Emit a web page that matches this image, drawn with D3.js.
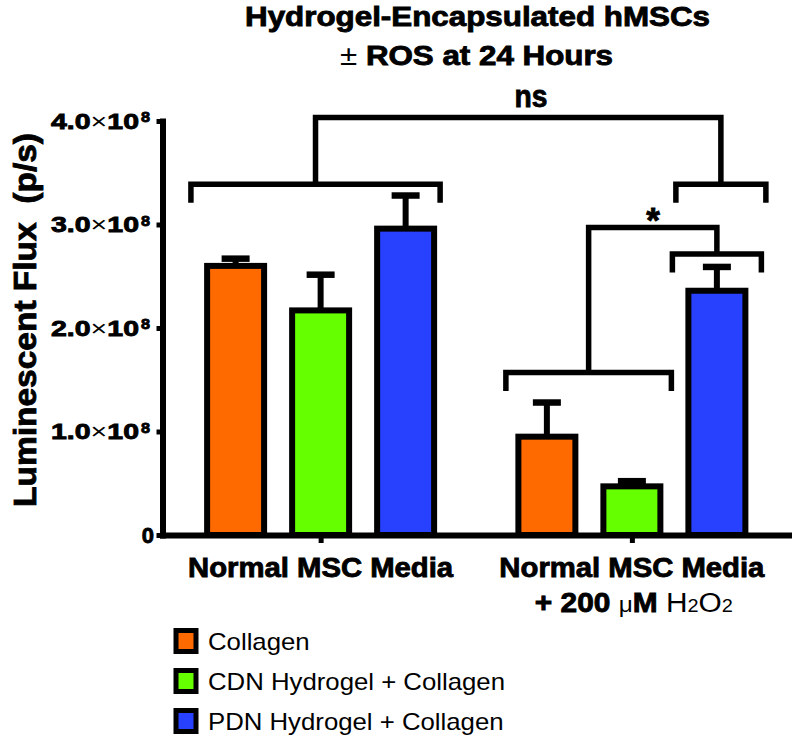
<!DOCTYPE html>
<html>
<head>
<meta charset="utf-8">
<script src="https://cdn.jsdelivr.net/npm/d3@7"></script>
<style>
  html, body { margin: 0; padding: 0; background: #fff; }
  svg { display: block; font-family: "Liberation Sans", Arial, Helvetica, sans-serif; }
  .heavy { stroke: #000; stroke-width: 0.85px; }
  .thin { stroke-width: 0px; font-weight: normal; }
</style>
</head>
<body>
<div id="chart"></div>
<script>
// ---------------- data ----------------
const groups = ["Normal MSC Media", "Normal MSC Media + 200 μM H2O2"];
const series = ["Collagen", "CDN Hydrogel + Collagen", "PDN Hydrogel + Collagen"];
const colors = ["#ff6a00", "#66ff00", "#2741ff"];
const collagenMean = [2.60e8, 0.95e8];
const cdnMean      = [2.17e8, 0.47e8];
const pdnMean      = [2.96e8, 2.36e8];
const collagenErr  = [0.07e8, 0.33e8];
const cdnErr       = [0.345e8, 0.05e8];
const pdnErr       = [0.32e8, 0.23e8];
const yTickValues  = [0, 1e8, 2e8, 3e8, 4e8];
const yTickMant    = ["0", "1.0", "2.0", "3.0", "4.0"];
const yTickExp     = ["", "8", "8", "8", "8"];
const titleLines   = ["Hydrogel-Encapsulated hMSCs", "± ROS at 24 Hours"];
const yTitle       = "Luminescent Flux\u00a0 (p/s)";

const means = [collagenMean, cdnMean, pdnMean];
const errs  = [collagenErr, cdnErr, pdnErr];

// ---------------- layout ----------------
const W = 792, H = 741;
const svg = d3.select("#chart").append("svg").attr("width", W).attr("height", H);

const y = d3.scaleLinear().domain([0, 4e8]).range([535, 121]);
const x0 = d3.scalePoint().domain(groups).range([162.5, 790]).padding(0.508);
const x1 = d3.scaleBand().domain(series).range([-116.5, 116.5]).paddingInner(0.259);

const SW = 6; // line weight

// ---------------- title ----------------
svg.append("text").attr("class", "heavy").attr("x", 477.5).attr("y", 26).attr("text-anchor", "middle")
  .attr("font-size", 27).attr("font-weight", "bold")
  .attr("textLength", 465).attr("lengthAdjust", "spacingAndGlyphs")
  .text(titleLines[0]);
const t2 = svg.append("text").attr("class", "heavy").attr("x", 476.5).attr("y", 65).attr("text-anchor", "middle")
  .attr("font-size", 27).attr("font-weight", "bold")
  .attr("textLength", 273).attr("lengthAdjust", "spacingAndGlyphs");
t2.append("tspan").attr("class", "thin").text(titleLines[1].slice(0, 1));
t2.append("tspan").text(titleLines[1].slice(1));

// ---------------- y axis ----------------
const yAxis = svg.append("g").attr("transform", "translate(162.5,0)")
  .call(d3.axisLeft(y).tickValues(yTickValues).tickSize(6).tickSizeOuter(0).tickFormat(""));
yAxis.select(".domain").attr("stroke", "#000").attr("stroke-width", SW).attr("stroke-linecap", "square");
yAxis.selectAll(".tick line").attr("stroke", "#000").attr("stroke-width", 5);

yTickValues.forEach((v, i) => {
  const ty = y(v);
  if (yTickExp[i] === "") {
    svg.append("text").attr("class", "heavy").attr("x", 154).attr("y", ty + 7.5).attr("text-anchor", "end")
      .attr("font-size", 22).attr("font-weight", "bold").text(yTickMant[i]);
  } else {
    const t = svg.append("text").attr("class", "heavy").attr("x", 51).attr("y", ty + 7.5)
      .attr("font-size", 22).attr("font-weight", "bold")
      .attr("textLength", 88).attr("lengthAdjust", "spacingAndGlyphs");
    t.append("tspan").text(yTickMant[i]);
    t.append("tspan").attr("class", "thin").text("×");
    t.append("tspan").text("10");
    svg.append("text").attr("class", "heavy").attr("x", 141).attr("y", ty + 1)
      .attr("font-size", 15).attr("font-weight", "bold")
      .attr("textLength", 9).attr("lengthAdjust", "spacingAndGlyphs")
      .text(yTickExp[i]);
  }
});

svg.append("text").attr("class", "heavy")
  .attr("transform", "translate(36,320) rotate(-90)")
  .attr("text-anchor", "middle").attr("font-size", 32).attr("font-weight", "bold")
  .attr("textLength", 374).attr("lengthAdjust", "spacingAndGlyphs")
  .text(yTitle);

// ---------------- bars ----------------
const barG = svg.append("g");
series.forEach((s, si) => {
  groups.forEach((g, gi) => {
    const cx = x0(g);
    const bx = cx + x1(s);
    const bw = x1.bandwidth();
    const v = means[si][gi];
    const e = errs[si][gi];
    const mid = bx + bw / 2;
    barG.append("line").attr("x1", mid).attr("x2", mid)
      .attr("y1", y(v)).attr("y2", y(v + e))
      .attr("stroke", "#000").attr("stroke-width", SW);
    barG.append("line").attr("x1", mid - 14).attr("x2", mid + 14)
      .attr("y1", y(v + e)).attr("y2", y(v + e))
      .attr("stroke", "#000").attr("stroke-width", 6.5);
    barG.append("rect")
      .attr("x", bx + SW / 2).attr("width", bw - SW)
      .attr("y", y(v)).attr("height", y(0) - y(v))
      .attr("fill", colors[si]).attr("stroke", "#000").attr("stroke-width", SW);
  });
});

// ---------------- x axis ----------------
const xAxis = svg.append("g").attr("transform", "translate(0,535)")
  .call(d3.axisBottom(x0).tickSize(8).tickSizeOuter(0).tickFormat(""));
xAxis.select(".domain").attr("stroke", "#000").attr("stroke-width", SW).attr("stroke-linecap", "square");
xAxis.selectAll(".tick line").attr("stroke", "#000").attr("stroke-width", 5);

// x labels
[0, 1].forEach(gi => {
  svg.append("text").attr("class", "heavy").attr("x", x0(groups[gi])).attr("y", 577).attr("text-anchor", "middle")
    .attr("font-size", 27).attr("font-weight", "bold")
    .attr("textLength", 265).attr("lengthAdjust", "spacingAndGlyphs").text("Normal MSC Media");
});
const l2 = svg.append("text").attr("x", x0(groups[1]) + 2).attr("y", 612).attr("text-anchor", "middle")
  .attr("font-size", 27).attr("font-weight", "bold")
  .attr("textLength", 198).attr("lengthAdjust", "spacingAndGlyphs");
l2.append("tspan").attr("class", "heavy").text("+ 200 ");
l2.append("tspan").attr("font-weight", "normal").attr("font-size", 22).text("μ");
l2.append("tspan").attr("class", "heavy").text("M ");
l2.append("tspan").attr("font-weight", "normal").text("H");
l2.append("tspan").attr("font-weight", "normal").attr("font-size", 18).text("2");
l2.append("tspan").attr("font-weight", "normal").text("O");
l2.append("tspan").attr("font-weight", "normal").attr("font-size", 18).text("2");

// ---------------- significance brackets ----------------
const c1 = x0(groups[0]), c2 = x0(groups[1]);
const LEG = 18.5;
const brackets = {
  A: { x1: c1 - 129.7, x2: c1 + 119.5, level: 3.39e8 },
  B: { x1: c2 + 44,    x2: c2 + 134,   level: 3.39e8 },
  C: { x1: c2 + 40.5,  x2: c2 + 129.5, level: 2.715e8 },
  D: { x1: c2 - 126,   x2: c2 + 39.5,  level: 1.57e8 }
};
const sg = svg.append("g").attr("fill", "none").attr("stroke", "#000")
  .attr("stroke-width", 5.5).attr("stroke-linejoin", "miter");
Object.values(brackets).forEach(b => {
  const ly = y(b.level);
  sg.append("path").attr("d", `M${b.x1},${ly + LEG}V${ly}H${b.x2}V${ly + LEG}`);
});
function connect(a, b, level) {
  const ax = (a.x1 + a.x2) / 2, bx = (b.x1 + b.x2) / 2;
  sg.append("path").attr("d", `M${ax},${y(a.level)}V${y(level)}H${bx}V${y(b.level)}`);
}
connect(brackets.A, brackets.B, 4.034e8);
connect(brackets.D, brackets.C, 2.97e8);

svg.append("text").attr("class", "heavy").attr("x", 531).attr("y", 107).attr("text-anchor", "middle")
  .attr("font-size", 32).attr("font-weight", "bold")
  .attr("textLength", 33).attr("lengthAdjust", "spacingAndGlyphs").text("ns");
svg.append("text").attr("class", "heavy").attr("x", 653).attr("y", 232).attr("text-anchor", "middle")
  .attr("font-size", 35).attr("font-weight", "bold").text("*");

// ---------------- legend ----------------
const legRows = [641, 681, 721];
const leg = svg.append("g");
series.forEach((s, i) => {
  leg.append("rect").attr("x", 176).attr("y", legRows[i] - 10.5).attr("width", 20).attr("height", 21)
    .attr("fill", colors[i]).attr("stroke", "#000").attr("stroke-width", 5);
  leg.append("text").attr("class", "legtxt").attr("x", 208).attr("y", legRows[i] + 8.5)
    .attr("font-size", 24).text(s);
});
const ref = leg.selectAll(".legtxt").nodes()[1];
const factor = 297 / ref.getComputedTextLength();
leg.selectAll(".legtxt").each(function () {
  const n = this.getComputedTextLength();
  d3.select(this).attr("textLength", n * factor).attr("lengthAdjust", "spacingAndGlyphs");
});
</script>
</body>
</html>
